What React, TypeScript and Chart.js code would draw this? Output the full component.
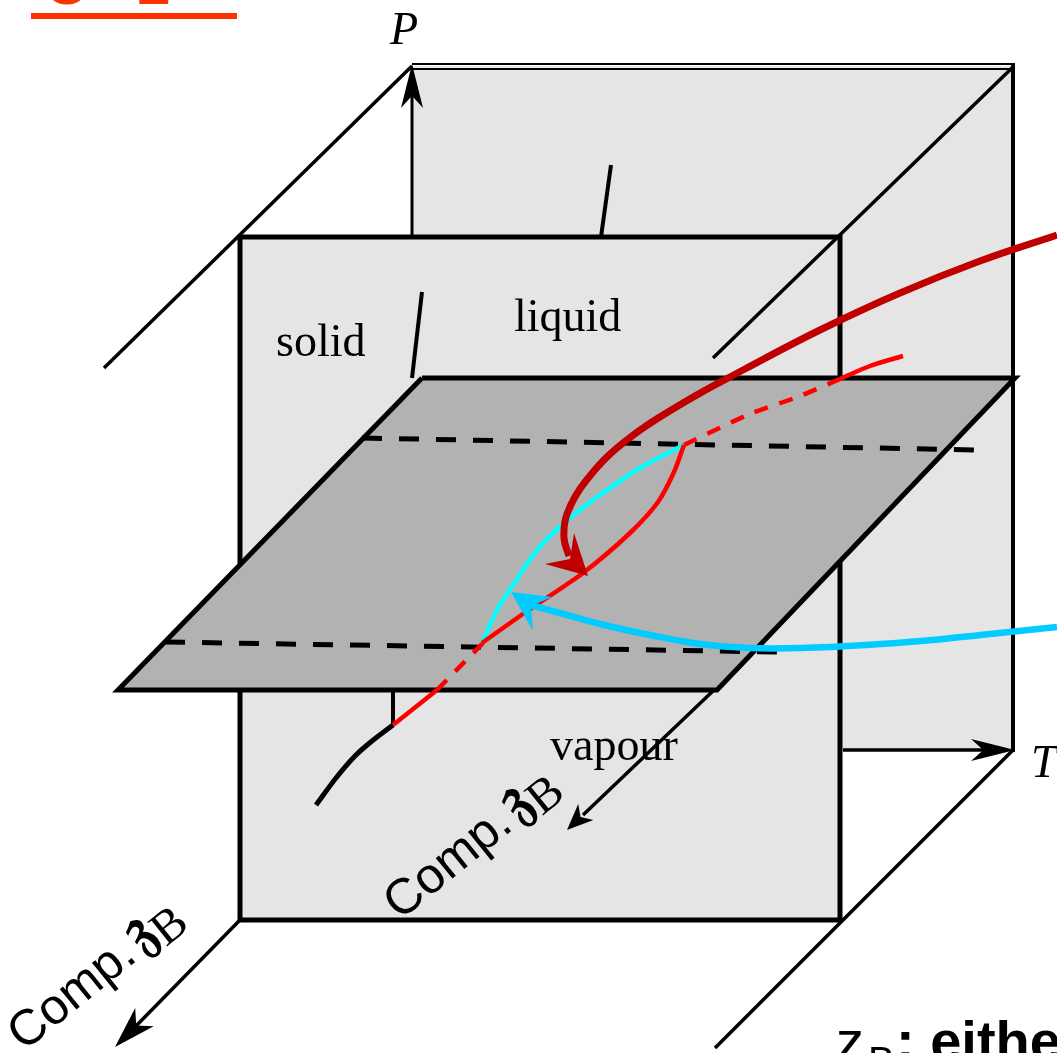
import React, { useEffect, useRef } from "react";
import { Chart, registerables } from "chart.js";
Chart.register(...registerables);

type P = [number, number];
const W = 1057;
const H = 1053;

// ---- frame geometry (diagram coordinates) ----
const backPanel: P[] = [[412, 66], [1013, 66], [1013, 750], [412, 750], [412, 66]];
const backTopEdgeA: P[] = [[412, 64], [1015, 64]];
const backTopEdgeB: P[] = [[412, 69], [1013, 69]];
const backRightEdge: P[] = [[1013, 64], [1013, 752]];
const backTick: P[] = [[611, 165], [601, 237]];
const frontPanel: P[] = [[240, 237], [840, 237], [840, 920], [240, 920], [240, 237]];
const frontTick: P[] = [[422, 292], [412, 378]];
const diagTopLeft: P[] = [[412, 66], [104, 368]];
const diagTopRight: P[] = [[1013, 67], [713, 358]];
const diagBottomRight: P[] = [[1013, 750], [715, 1048]];
const axisZ: P[] = [[240, 920], [135, 1027]];
const axisZMid: P[] = [[714, 690], [583, 815]];
const axisP: P[] = [[412, 237], [412, 95]];
const axisT: P[] = [[843, 750], [985, 750]];
const plane: P[] = [[422, 378], [1015, 378], [717, 690], [118, 690], [422, 378]];
const dashUpper: P[] = [[362, 438], [977, 450]];
const dashLower: P[] = [[165, 642], [778, 652]];

// ---- phase curves ----
const blackStub: P[] = [[393, 690], [393, 725]];
const blackCurve: P[] = [[393, 725], [372, 741], [355, 756], [336, 778], [316, 805]];
const redLowSolid: P[] = [[393, 725], [437, 690]];
const redLowDash: P[] = [[437, 690], [483, 643]];
const redBranch: P[] = [[482, 643], [530, 609], [583, 573], [630, 533], [658, 502], [674, 472], [684, 445]];
const cyanBranch: P[] = [[482, 643], [497, 610], [515, 582], [537, 550], [565, 522], [600, 495], [640, 468], [684, 445]];
const redUpDash: P[] = [[684, 445], [750, 414], [800, 396], [840, 379]];
const redUpSolid: P[] = [[840, 379], [870, 366], [903, 356]];

// ---- annotation arrows ----
const darkRedArrow: P[] = [[1057, 235], [980, 261], [900, 293], [820, 330], [745, 369], [683, 403], [623, 443], [585, 482], [567, 514], [564, 538], [569, 556]];
const darkRedHead: P[] = [[588, 576], [545, 564], [570, 559], [574, 533], [588, 576]];
const cyanArrow: P[] = [[1057, 627], [990, 634], [933, 640], [866, 645], [800, 648], [750, 648], [700, 644], [650, 635], [600, 624], [560, 613], [530, 605]];
const cyanHead: P[] = [[511, 592], [552, 597], [531, 606], [533, 631], [511, 592]];

// arrowhead tips and the points they come from: [tip, from, length, halfWidth]
const headSpecs: [P, P, number, number][] = [
  [[412, 64], [412, 237], 44, 11],
  [[1015, 750], [843, 750], 44, 11],
  [[115, 1047], [240, 920], 42, 13],
  [[567, 830], [714, 690], 26, 11],
];

// ---- texts ----
const plainLabels: { text: string; x: number; y: number; font: string }[] = [
  { text: "P", x: 390, y: 44, font: "italic 46px 'Liberation Serif'" },
  { text: "T", x: 1031, y: 777, font: "italic 46px 'Liberation Serif'" },
  { text: "solid", x: 276, y: 356, font: "46px 'Liberation Serif'" },
  { text: "liquid", x: 514, y: 331, font: "46px 'Liberation Serif'" },
  { text: "vapour", x: 550, y: 760, font: "46px 'Liberation Serif'" },
];
const compLabelPos: P[] = [[24, 1052], [400, 921]];
const compParts = ["Comp.", "\u{1D537}", "B"];
const footParts = ["z", "B", ": either"];
const titleText = "C   2";

const pts = (a: P[]) => a.map(([x, y]) => ({ x, y }));

function headPoly(tip: P, from: P, len: number, hw: number): P[] {
  const dx = tip[0] - from[0];
  const dy = tip[1] - from[1];
  const L = Math.hypot(dx, dy);
  const ux = dx / L, uy = dy / L;
  const px = -uy, py = ux;
  const bx = tip[0] - ux * len, by = tip[1] - uy * len;
  const nx = tip[0] - ux * len * 0.72, ny = tip[1] - uy * len * 0.72;
  return [tip, [bx + px * hw, by + py * hw], [nx, ny], [bx - px * hw, by - py * hw], tip];
}

function line(a: P[], color: string, width: number, extra: any = {}) {
  return {
    data: pts(a), showLine: true, borderColor: color, borderWidth: width,
    pointRadius: 0, pointHoverRadius: 0, fill: false, tension: 0,
    borderCapStyle: "butt", borderJoinStyle: "miter", ...extra,
  };
}
function poly(a: P[], fillColor: string, stroke = "rgba(0,0,0,0)", width = 1) {
  return {
    data: pts(a), showLine: true, borderColor: stroke, borderWidth: width,
    backgroundColor: fillColor, pointRadius: 0, pointHoverRadius: 0,
    fill: "shape", tension: 0, borderJoinStyle: "miter",
  };
}

const BLACK = "#000000";
const DARKRED = "rgb(192,0,0)";
const RED = "rgb(255,0,0)";
const CYAN = "rgb(0,255,255)";
const SKY = "rgb(0,204,255)";

const textPlugin = {
  id: "diagramTexts",
  afterDatasetsDraw(chart: any) {
    const { ctx } = chart;
    const sx = chart.scales.x, sy = chart.scales.y;
    const X = (v: number) => sx.getPixelForValue(v);
    const Y = (v: number) => sy.getPixelForValue(v);
    ctx.save();
    ctx.fillStyle = BLACK;
    ctx.textBaseline = "alphabetic";
    ctx.textAlign = "left";
    for (const l of plainLabels) {
      ctx.font = l.font;
      ctx.fillText(l.text, X(l.x), Y(l.y));
    }
    // rotated composition labels
    for (const [px, py] of compLabelPos) {
      ctx.save();
      ctx.translate(X(px), Y(py));
      ctx.rotate((-39 * Math.PI) / 180);
      ctx.font = "50px 'Liberation Sans'";
      ctx.fillText(compParts[0], 0, 0);
      let w = ctx.measureText(compParts[0]).width + 6;
      ctx.font = "bold 66px 'DejaVu Serif'";
      ctx.fillText(compParts[1], w, -2);
      w += ctx.measureText(compParts[1]).width;
      ctx.font = "48px 'Liberation Serif'";
      ctx.fillText(compParts[2], w, 8);
      ctx.restore();
    }
    // footer text (cut off)
    ctx.font = "56px 'Liberation Sans'";
    ctx.fillText(footParts[0], X(836), Y(1060));
    ctx.font = "40px 'Liberation Sans'";
    ctx.fillText(footParts[1], X(868), Y(1075));
    ctx.font = "bold 56px 'Liberation Sans'";
    ctx.fillText(footParts[2], X(896), Y(1060));
    // title (cut off at top)
    ctx.fillStyle = "rgb(255,51,0)";
    ctx.font = "bold 60px 'Liberation Sans'";
    ctx.fillText(titleText, X(44), Y(4));
    ctx.fillRect(X(31), Y(13), X(237) - X(31), Y(19) - Y(13));
    ctx.restore();
  },
};

export default function App() {
  const ref = useRef<HTMLCanvasElement | null>(null);
  useEffect(() => {
    if (!ref.current) return;
    const ds: any[] = [
      poly(backPanel, "rgb(229,229,229)"),
      line(backTopEdgeA, BLACK, 2),
      line(backTopEdgeB, BLACK, 2),
      line(backRightEdge, BLACK, 4),
      line(backTick, BLACK, 4),
      line(axisP, BLACK, 3),
      poly(headPoly(...headSpecs[0]), BLACK),
      line(diagTopLeft, BLACK, 3.5),
      poly(frontPanel, "rgb(229,229,229)", BLACK, 5),
      line(diagTopRight, BLACK, 3.5),
      line(frontTick, BLACK, 4),
      line(axisT, BLACK, 3.5),
      poly(headPoly(...headSpecs[1]), BLACK),
      line(diagBottomRight, BLACK, 3.5),
      line(axisZ, BLACK, 3.5),
      poly(headPoly(...headSpecs[2]), BLACK),
      poly(plane, "rgb(178,178,178)", BLACK, 5),
      line(dashUpper, BLACK, 5, { borderDash: [20, 17] }),
      line(dashLower, BLACK, 5, { borderDash: [20, 17] }),
      line(axisZMid, BLACK, 3.5),
      poly(headPoly(...headSpecs[3]), BLACK),
      line(blackStub, BLACK, 4),
      line(blackCurve, BLACK, 5, { tension: 0.3, borderJoinStyle: "round" }),
      line(redLowSolid, RED, 4.5),
      line(redLowDash, RED, 4.5, { borderDash: [14, 12] }),
      line(cyanBranch, CYAN, 4.5, { tension: 0.3, borderJoinStyle: "round" }),
      line(redBranch, RED, 4.5, { tension: 0.3, borderJoinStyle: "round" }),
      line(redUpDash, RED, 4.5, { borderDash: [14, 12], tension: 0.3 }),
      line(redUpSolid, RED, 4.5, { tension: 0.3 }),
      line(darkRedArrow, DARKRED, 7, { tension: 0.4, borderJoinStyle: "round" }),
      poly(darkRedHead, DARKRED),
      line(cyanArrow, SKY, 6.5, { tension: 0.4, borderJoinStyle: "round" }),
      poly(cyanHead, SKY),
    ];
    ds.forEach((d, i) => (d.order = -i));
    const chart = new Chart(ref.current, {
      type: "scatter",
      data: { datasets: ds },
      options: {
        responsive: false,
        maintainAspectRatio: false,
        devicePixelRatio: 1,
        animation: false,
        events: [],
        layout: { padding: 0 },
        scales: {
          x: { type: "linear", min: 0, max: W, display: false },
          y: { type: "linear", min: 0, max: H, reverse: true, display: false },
        },
        plugins: { legend: { display: false }, tooltip: { enabled: false } },
      } as any,
      plugins: [textPlugin],
    });
    return () => chart.destroy();
  }, []);
  return (
    <canvas
      ref={ref}
      width={W}
      height={H}
      style={{ position: "fixed", left: 0, top: 0, width: W, height: H, background: "#ffffff" }}
    />
  );
}
